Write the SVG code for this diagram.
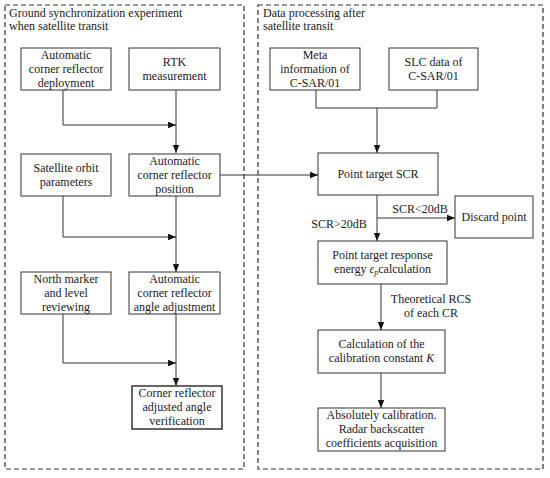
<svg xmlns="http://www.w3.org/2000/svg" width="550" height="478" viewBox="0 0 550 478" font-family="'Liberation Serif', serif">
<style>
text{font-family:'Liberation Serif',serif;font-size:12px;fill:#1a1a1a}
.c{text-anchor:middle}
.box{fill:#fff;stroke:#333;stroke-width:1}
.cont{fill:none;stroke:#333;stroke-width:1.2;stroke-dasharray:5,3}
.ln{fill:none;stroke:#333;stroke-width:1}
</style>
<defs>
<marker id="ah" viewBox="0 0 8 8" refX="8" refY="4" markerWidth="8" markerHeight="8" markerUnits="userSpaceOnUse" orient="auto">
<path d="M0,0.8 L8,4 L0,7.2 Z" fill="#111"/>
</marker>
</defs>
<rect fill="#fff" width="550" height="478"/>
<g id="container-left">
<rect class="cont" x="5" y="5" width="239" height="464"/>
<text x="9" y="17">Ground synchronization experiment</text>
<text x="9" y="30">when satellite transit</text>
</g>
<g id="container-right">
<rect class="cont" x="258" y="5" width="285" height="464"/>
<text x="263" y="17">Data processing after</text>
<text x="263" y="30">satellite transit</text>
</g>
<g id="connectors">
<path class="ln" d="M63,90 V125 H176" marker-end="url(#ah)"/>
<path class="ln" d="M176,90 V153" marker-end="url(#ah)"/>
<path class="ln" d="M63,196 V237 H176" marker-end="url(#ah)"/>
<path class="ln" d="M176,196 V272" marker-end="url(#ah)"/>
<path class="ln" d="M63,314 V363 H176" marker-end="url(#ah)"/>
<path class="ln" d="M176,314 V386" marker-end="url(#ah)"/>
<path class="ln" d="M220,175 H318" marker-end="url(#ah)"/>
<path class="ln" d="M316,90 V108 H437 V90"/>
<path class="ln" d="M377,108 V153" marker-end="url(#ah)"/>
<path class="ln" d="M377,195 V241" marker-end="url(#ah)"/>
<path class="ln" d="M377,218 H455" marker-end="url(#ah)"/>
<path class="ln" d="M381,284 V330" marker-end="url(#ah)"/>
<path class="ln" d="M381,373 V408" marker-end="url(#ah)"/>
<text class="c" x="420" y="213">SCR&lt;20dB</text>
<text class="c" x="339" y="228">SCR&gt;20dB</text>
<text class="c" x="431" y="303">Theoretical RCS</text>
<text class="c" x="431" y="317">of each CR</text>
</g>
<g id="deployment">
<rect class="box" x="21" y="48" width="90" height="42"/>
<text class="c" x="66" y="58.5">Automatic</text>
<text class="c" x="66" y="72.5">corner reflector</text>
<text class="c" x="66" y="86.5">deployment</text>
</g>
<g id="rtk">
<rect class="box" x="129" y="48" width="91" height="42"/>
<text class="c" x="174.5" y="66">RTK</text>
<text class="c" x="174.5" y="80">measurement</text>
</g>
<g id="orbit">
<rect class="box" x="21" y="154" width="90" height="42"/>
<text class="c" x="66" y="172">Satellite orbit</text>
<text class="c" x="66" y="186">parameters</text>
</g>
<g id="position">
<rect class="box" x="129" y="154" width="91" height="42"/>
<text class="c" x="174.5" y="164.5">Automatic</text>
<text class="c" x="174.5" y="178.5">corner reflector</text>
<text class="c" x="174.5" y="192.5">position</text>
</g>
<g id="north">
<rect class="box" x="21" y="272" width="90" height="42"/>
<text class="c" x="66" y="282.5">North marker</text>
<text class="c" x="66" y="296.5">and level</text>
<text class="c" x="66" y="310.5">reviewing</text>
</g>
<g id="adjustment">
<rect class="box" x="129" y="272" width="91" height="42"/>
<text class="c" x="174.5" y="282.5">Automatic</text>
<text class="c" x="174.5" y="296.5">corner reflector</text>
<text class="c" x="174.5" y="310.5">angle adjustment</text>
</g>
<g id="verification">
<rect class="box" x="132" y="386" width="90" height="43" style="stroke-width:1.5"/>
<text class="c" x="177" y="397">Corner reflector</text>
<text class="c" x="177" y="411">adjusted angle</text>
<text class="c" x="177" y="425">verification</text>
</g>
<g id="meta">
<rect class="box" x="270" y="48" width="90" height="42"/>
<text class="c" x="315" y="58.5">Meta</text>
<text class="c" x="315" y="72.5">information of</text>
<text class="c" x="315" y="86.5">C-SAR/01</text>
</g>
<g id="slc">
<rect class="box" x="389" y="48" width="89" height="42"/>
<text class="c" x="433.5" y="66">SLC data of</text>
<text class="c" x="433.5" y="80">C-SAR/01</text>
</g>
<g id="scr">
<rect class="box" x="318" y="153" width="120" height="42"/>
<text class="c" x="378" y="178">Point target SCR</text>
</g>
<g id="discard">
<rect class="box" x="455" y="196" width="78" height="42"/>
<text class="c" x="494" y="221">Discard point</text>
</g>
<g id="energy">
<rect class="box" x="318" y="241" width="129" height="43"/>
<text class="c" x="382.5" y="259">Point target response</text>
<text class="c" x="382.5" y="273">energy <tspan font-style="italic">ε</tspan><tspan font-style="italic" font-size="8" dy="2">p</tspan><tspan dy="-2">calculation</tspan></text>
</g>
<g id="calibration">
<rect class="box" x="318" y="330" width="127" height="43"/>
<text class="c" x="381.5" y="348">Calculation of the</text>
<text class="c" x="381.5" y="362">calibration constant <tspan font-style="italic">K</tspan></text>
</g>
<g id="absolute">
<rect class="box" x="318" y="408" width="127" height="43"/>
<text class="c" x="381.5" y="418.5">Absolutely calibration.</text>
<text class="c" x="381.5" y="432.5">Radar backscatter</text>
<text class="c" x="381.5" y="446.5">coefficients acquisition</text>
</g>
</svg>
